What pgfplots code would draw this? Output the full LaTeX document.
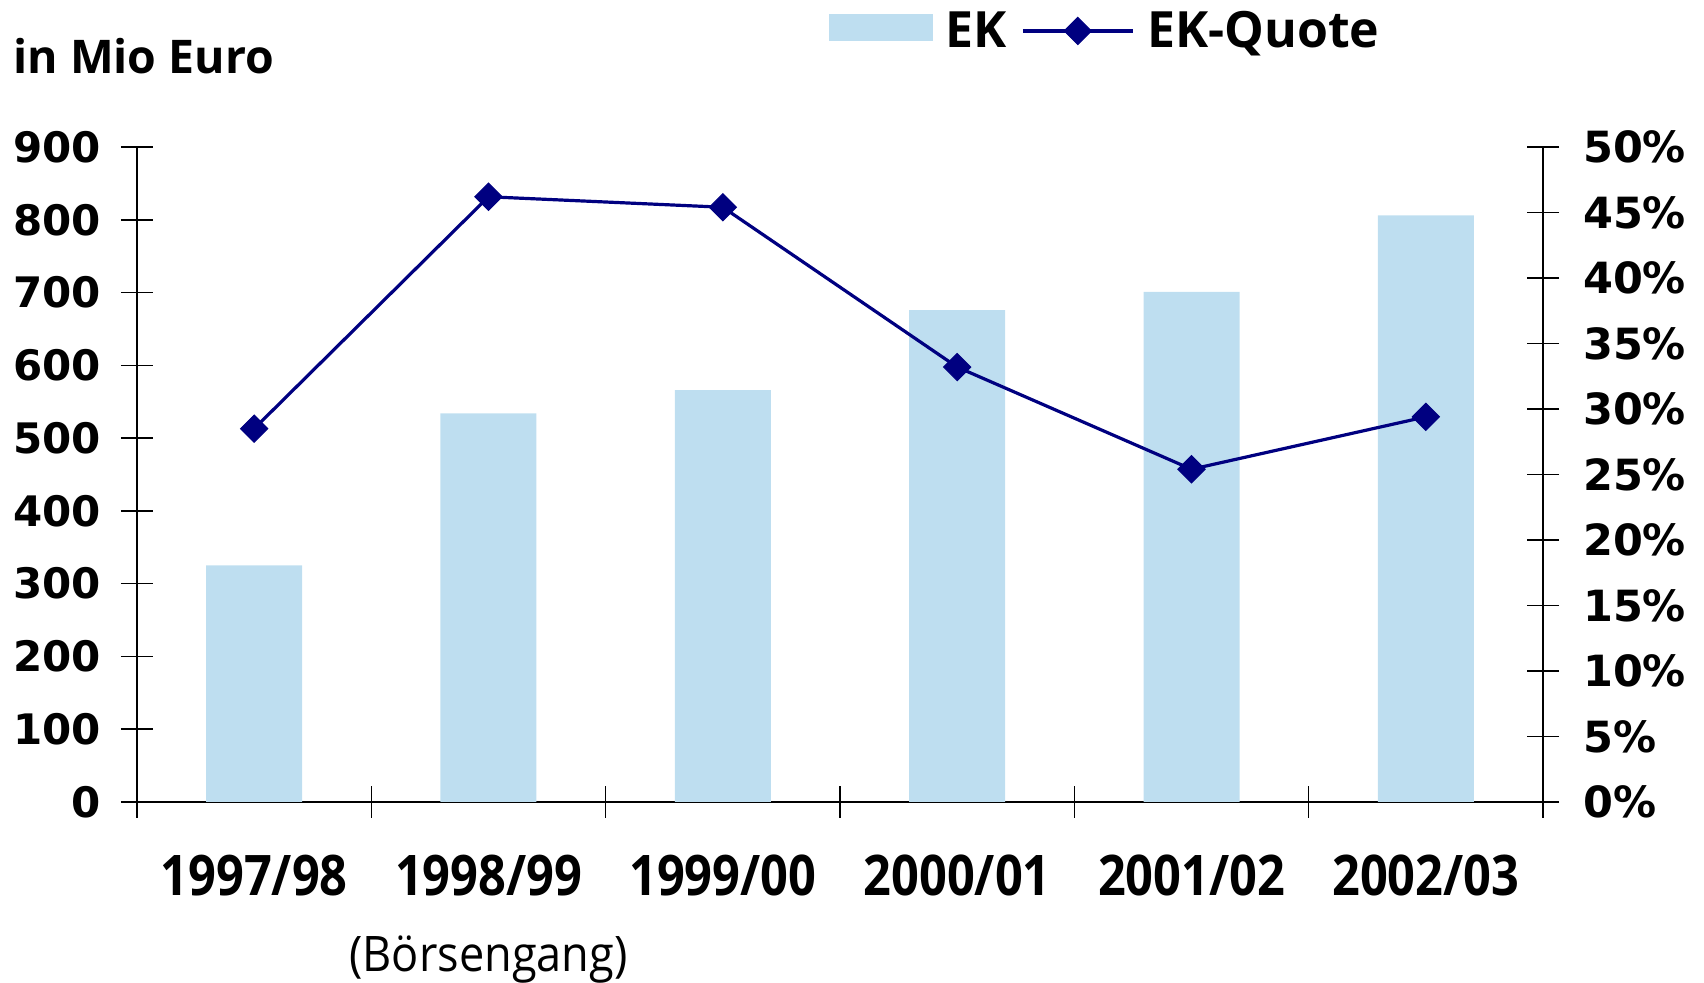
\documentclass[border=0pt]{standalone}
\usepackage{pgfplots}
\pgfplotsset{compat=1.18}
\usepackage{fontspec}
\setmainfont{Open Sans}
\newfontfamily\numfont{DejaVu Sans}
\newfontfamily\condfont[FakeStretch=0.87]{Open Sans}
\newfontfamily\condlfont[FakeStretch=0.92]{Open Sans}
\definecolor{ekbar}{RGB}{190,222,240}
\definecolor{ekline}{RGB}{0,0,128}
\begin{document}
\begin{tikzpicture}
\useasboundingbox (-68.5pt,-90.5pt) rectangle (783.5pt,401pt);
\begin{axis}[
  scale only axis, width=703pt, height=327.5pt,
  xmin=-0.5, xmax=5.5, ymin=0, ymax=900,
  axis x line=bottom, axis y line=left,
  axis line style={-, line width=0.8pt, black},
  xtick={-0.5,0.5,...,5.5}, xticklabels={},
  extra x ticks={0,1,2,3,4,5},
  extra x tick labels={1997/98,1998/99,1999/00,2000/01,2001/02,2002/03},
  extra x tick style={major tick length=0pt, tick style={draw=none},
    xticklabel style={font=\condfont\bfseries\fontsize{28}{32}\selectfont, anchor=base, yshift=-47pt}},
  ytick={0,100,...,900},
  yticklabels={0,100,200,300,400,500,600,700,800,900},
  yticklabel style={font=\numfont\bfseries\fontsize{21}{25}\selectfont, xshift=-6.5pt},
  tick align=center, major tick length=16pt,
  tick style={black, line width=0.8pt},
  clip=false,
]
\addplot[ybar, bar width=48pt, bar shift=0pt, fill=ekbar, draw=none] coordinates {(0,325) (1,534) (2,566) (3,676) (4,701) (5,806)};
\node[anchor=base west, inner sep=0pt, font=\bfseries\fontsize{23.2}{28}\selectfont] at ([xshift=-62pt, yshift=37pt] rel axis cs:0,1) {in Mio Euro};
\node[anchor=base, inner sep=0pt, font=\condlfont\fontsize{24.5}{28}\selectfont] at ([yshift=-85pt] axis cs:1,0) {(Börsengang)};
\end{axis}
\begin{axis}[
  scale only axis, width=703pt, height=327.5pt,
  xmin=-0.5, xmax=5.5, ymin=0, ymax=50,
  axis x line=none, axis y line=right,
  axis line style={-, line width=0.8pt, black},
  ytick={0,5,...,50},
  yticklabels={0\%,5\%,10\%,15\%,20\%,25\%,30\%,35\%,40\%,45\%,50\%},
  yticklabel style={font=\numfont\bfseries\fontsize{21.5}{25}\selectfont, xshift=8.5pt},
  tick align=center, major tick length=16pt,
  tick style={black, line width=0.8pt},
  clip=false,
  legend columns=2,
  legend style={at={(0.492,1)}, anchor=west, yshift=58pt, draw=none, fill=none,
    inner sep=0pt, font=\bfseries\fontsize{25}{30}\selectfont,
    nodes={inner sep=0pt},
    /tikz/every odd column/.append style={column sep=6.5pt},
    /tikz/every even column/.append style={column sep=7pt}},
]
\addlegendimage{legend image code/.code={\fill[ekbar] (0pt,-4.5pt) rectangle (51.5pt,8.5pt);}}
\addlegendentry{EK}
\addplot[ekline, line width=1.6pt, mark=square*, mark size=4.8pt,
  mark options={rotate=45, fill=ekline, draw=ekline, line width=0.5pt},
  legend image code/.code={\draw[ekline, line width=1.6pt, mark=square*, mark size=4.8pt,
  mark options={rotate=45, fill=ekline, draw=ekline, line width=0.5pt}, mark repeat=2, mark phase=2] plot coordinates {(0pt,0pt) (27.5pt,0pt) (55pt,0pt)};}]
  coordinates {(0,28.5) (1,46.2) (2,45.4) (3,33.2) (4,25.4) (5,29.4)};
\addlegendentry{EK-Quote}
\end{axis}
\end{tikzpicture}
\end{document}
